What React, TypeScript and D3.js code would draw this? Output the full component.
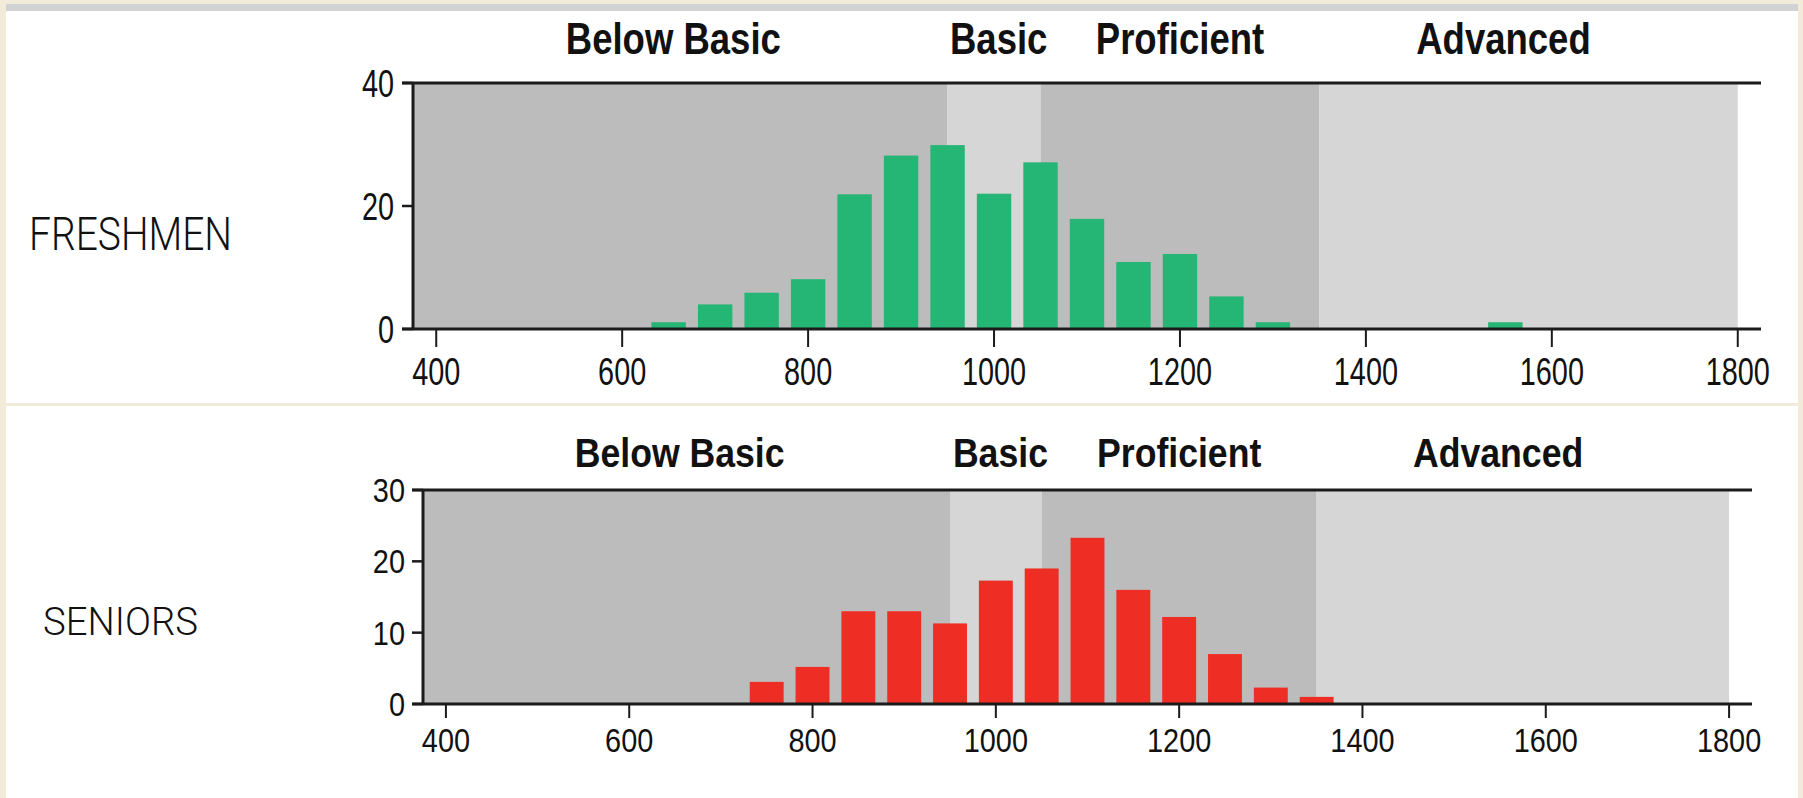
import React from "react";
import * as d3 from "d3";

// ---- data ----
const bandNames = ["Below Basic", "Basic", "Proficient", "Advanced"];
const bandStarts = [375, 950, 1050, 1350];
const bandEnds = [950, 1050, 1350, 1800];
const bandShades = ["dark", "light", "dark", "light"];
const bandLabelAt = [655, 1005, 1200, 1548];

const xTicks = [400, 600, 800, 1000, 1200, 1400, 1600, 1800];

const freshBins = [650, 700, 750, 800, 850, 900, 950, 1000, 1050, 1100, 1150, 1200, 1250, 1300, 1550];
const freshValues = [1.1, 4, 5.9, 8.1, 21.9, 28.2, 29.9, 22, 27.1, 17.9, 10.9, 12.2, 5.3, 1.1, 1.1];
const freshYTicks = [0, 20, 40];

const seniorBins = [750, 800, 850, 900, 950, 1000, 1050, 1100, 1150, 1200, 1250, 1300, 1350];
const seniorValues = [3.1, 5.2, 13, 13, 11.3, 17.3, 19, 23.3, 16, 12.2, 7, 2.3, 1];
const seniorYTicks = [0, 10, 20, 30];

const COLORS = {
  dark: "#bcbcbc",
  light: "#d6d6d6",
  green: "#25b574",
  red: "#ee2e24",
  axis: "#1b1b1b",
  beige: "#f3ebda",
  topbar: "#d1d2d4",
  text: "#111111",
};

const FONT = "'Liberation Sans', Arial, sans-serif";

function SText(props: {
  x: number; y: number; size: number; sx: number; weight?: string | number;
  anchor?: string; children: React.ReactNode;
}) {
  const { x, y, size, sx, weight = "normal", anchor = "start", children } = props;
  return (
    <text
      transform={`translate(${x},${y}) scale(${sx},1)`}
      fontSize={size}
      fontWeight={weight as any}
      textAnchor={anchor as any}
      fontFamily={FONT}
      fill={COLORS.text}
    >
      {children}
    </text>
  );
}

type PanelCfg = {
  label: string;
  labelX: number; labelY: number; labelSize: number; labelW: number;
  x0: number; x1: number; yTop: number; yBot: number;
  ymax: number; yTicks: number[];
  bins: number[]; values: number[]; color: string;
  bandLabelY: number; bandSize: number; bandSx: number;
  tickSize: number; tickSx: number; tickLabelDy: number; xTickLen: number;
  yLabelGap: number; yLabelDy: number;
};

function Panel({ c }: { c: PanelCfg }) {
  const x = d3.scaleLinear().domain([375, 1825]).range([c.x0, c.x1]);
  const y = d3.scaleLinear().domain([0, c.ymax]).range([c.yBot, c.yTop]);
  const half = 18.5;
  const tickOut = 11;
  return (
    <g>
      <text
        x={c.labelX}
        y={c.labelY}
        fontSize={c.labelSize}
        fontWeight={300}
        fontFamily="Roboto, 'Liberation Sans', Arial, sans-serif"
        textLength={c.labelW}
        lengthAdjust="spacingAndGlyphs"
        fill={COLORS.text}
      >
        {c.label}
      </text>
      {bandNames.map((n, i) => (
        <rect
          key={"b" + n}
          x={x(bandStarts[i])}
          y={y(c.ymax)}
          width={x(bandEnds[i]) - x(bandStarts[i])}
          height={y(0) - y(c.ymax)}
          fill={bandShades[i] === "dark" ? COLORS.dark : COLORS.light}
        />
      ))}
      {bandNames.map((n, i) => (
        <SText key={"l" + n} x={x(bandLabelAt[i])} y={c.bandLabelY} size={c.bandSize} sx={c.bandSx} weight="bold" anchor="middle">
          {n}
        </SText>
      ))}
      {c.bins.map((b, i) => (
        <rect
          key={"bar" + b}
          x={x(b - half)}
          y={y(c.values[i])}
          width={x(b + half) - x(b - half)}
          height={y(0) - y(c.values[i])}
          fill={c.color}
        />
      ))}
      {/* axes */}
      <line x1={c.x0 - tickOut} x2={c.x1} y1={y(c.ymax)} y2={y(c.ymax)} stroke={COLORS.axis} strokeWidth={3} />
      <line x1={c.x0 - tickOut} x2={c.x1} y1={y(0)} y2={y(0)} stroke={COLORS.axis} strokeWidth={3} />
      <line x1={c.x0} x2={c.x0} y1={y(c.ymax)} y2={y(0)} stroke={COLORS.axis} strokeWidth={3} />
      {c.yTicks.map((t) => (
        <g key={"yt" + t}>
          <line x1={c.x0 - tickOut} x2={c.x0} y1={y(t)} y2={y(t)} stroke={COLORS.axis} strokeWidth={2.5} />
          <SText x={c.x0 - tickOut - c.yLabelGap} y={y(t) + c.yLabelDy} size={c.tickSize} sx={c.tickSx} anchor="end">
            {t}
          </SText>
        </g>
      ))}
      {xTicks.map((t) => (
        <g key={"xt" + t}>
          <line x1={x(t)} x2={x(t)} y1={y(0)} y2={y(0) + c.xTickLen} stroke={COLORS.axis} strokeWidth={2} />
          <SText x={x(t)} y={y(0) + c.tickLabelDy} size={c.tickSize} sx={c.tickSx} anchor="middle">
            {t}
          </SText>
        </g>
      ))}
    </g>
  );
}

const fresh: PanelCfg = {
  label: "FRESHMEN", labelX: 29, labelY: 250, labelSize: 46, labelW: 203,
  x0: 413, x1: 1761, yTop: 83, yBot: 329, ymax: 40, yTicks: freshYTicks,
  bins: freshBins, values: freshValues, color: COLORS.green,
  bandLabelY: 54, bandSize: 44, bandSx: 0.83,
  tickSize: 38.5, tickSx: 0.75, tickLabelDy: 56, xTickLen: 18,
  yLabelGap: 8, yLabelDy: 14,
};

const seniors: PanelCfg = {
  label: "SENIORS", labelX: 43, labelY: 635, labelSize: 39, labelW: 155,
  x0: 423, x1: 1752, yTop: 490, yBot: 704, ymax: 30, yTicks: seniorYTicks,
  bins: seniorBins, values: seniorValues, color: COLORS.red,
  bandLabelY: 467, bandSize: 40.5, bandSx: 0.88,
  tickSize: 34, tickSx: 0.85, tickLabelDy: 48, xTickLen: 14,
  yLabelGap: 7, yLabelDy: 12,
};

export default function App() {
  const W = 1803, H = 798;
  return (
    <svg width={W} height={H} style={{ position: "absolute", left: 0, top: 0, display: "block" }}>
      <rect x={0} y={0} width={W} height={H} fill="#ffffff" />
      <rect x={0} y={0} width={W} height={4} fill={COLORS.beige} />
      <rect x={0} y={0} width={6} height={H} fill={COLORS.beige} />
      <rect x={1798} y={0} width={5} height={H} fill={COLORS.beige} />
      <rect x={6} y={4} width={1792} height={7} fill={COLORS.topbar} />
      <rect x={6} y={403} width={1792} height={3} fill={COLORS.beige} />
      <Panel c={fresh} />
      <Panel c={seniors} />
    </svg>
  );
}
